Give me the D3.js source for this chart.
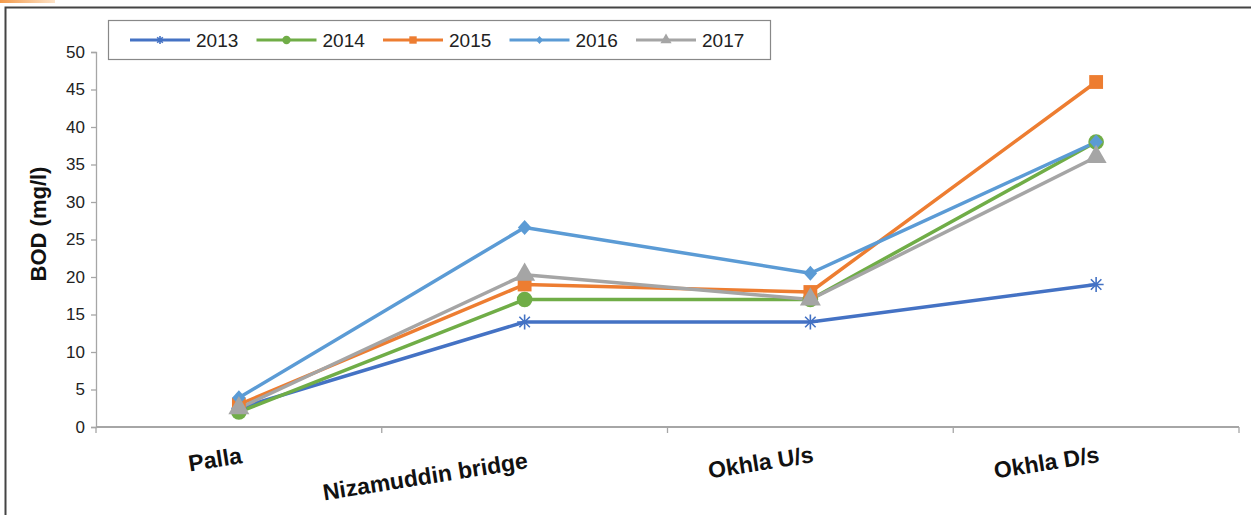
<!DOCTYPE html>
<html>
<head>
<meta charset="utf-8">
<script src="https://cdn.jsdelivr.net/npm/d3@7"></script>
<style>
  body { margin: 0; background: #fff; }
  svg { display: block; font-family: Arial, "Liberation Sans", sans-serif; }
</style>
</head>
<body>
<div id="chart"></div>
<script>
// BOD along the river, by station and year
const stations = ['Palla', 'Nizamuddin bridge', 'Okhla U/s', 'Okhla D/s'];
const years = ['2013', '2014', '2015', '2016', '2017'];
const bod2013 = [2.5, 14, 14, 19];
const bod2014 = [2, 17, 17, 38];
const bod2015 = [3, 19, 18, 46];
const bod2016 = [3.9, 26.6, 20.5, 38];
const bod2017 = [2.5, 20.3, 17, 36];
const yTicks = [0, 5, 10, 15, 20, 25, 30, 35, 40, 45, 50];

const colors = ['#4472c4', '#70ad47', '#ed7d31', '#5b9bd5', '#a5a5a5'];
const markers = ['asterisk', 'circle', 'square', 'diamond', 'triangle'];
const series = [bod2013, bod2014, bod2015, bod2016, bod2017];

const w = 1251, h = 515;
const plotL = 96, plotR = 1239, plotT = 52, plotB = 427;

const svg = d3.select('#chart').append('svg')
  .attr('width', w).attr('height', h);

// orange accent at top-left and the outer frame
const grad = svg.append('defs').append('linearGradient').attr('id', 'acc');
grad.append('stop').attr('offset', '0%').attr('stop-color', '#f39a4a');
grad.append('stop').attr('offset', '100%').attr('stop-color', '#fde3c8');
svg.append('rect').attr('x', 0).attr('y', 0).attr('width', 55).attr('height', 3).attr('fill', 'url(#acc)');
svg.append('path')
  .attr('d', 'M5.5,' + (h + 5) + 'V7.5H' + (w + 5))
  .attr('fill', 'none').attr('stroke', '#444').attr('stroke-width', 2);

const x = d3.scaleBand().domain(stations).range([plotL, plotR]);
const y = d3.scaleLinear().domain([0, 50]).range([plotB, plotT]);

// y axis
const yAxis = svg.append('g')
  .attr('transform', 'translate(' + plotL + ',0)')
  .call(d3.axisLeft(y).tickValues(yTicks).tickSize(5).tickPadding(6));
yAxis.selectAll('line, path').attr('stroke', '#a6a6a6').attr('stroke-width', 1.3);
yAxis.selectAll('text').attr('fill', '#222').style('font-size', '17px');

// x axis: ticks between categories
const xAxis = svg.append('g')
  .attr('transform', 'translate(0,' + plotB + ')');
xAxis.append('line').attr('x1', plotL).attr('x2', plotR)
  .attr('stroke', '#a6a6a6').attr('stroke-width', 2);
const bounds = stations.map(s => x(s)).concat([plotR]);
xAxis.selectAll('.tk').data(bounds).enter().append('line')
  .attr('x1', d => d).attr('x2', d => d).attr('y1', 0).attr('y2', 6)
  .attr('stroke', '#a6a6a6').attr('stroke-width', 1.3);

const labelDy = [36, 41, 35, 35];
xAxis.selectAll('.lbl').data(stations).enter().append('text')
  .attr('transform', (d, i) => 'translate(' + (x(d) + x.bandwidth() / 2 + 4) + ',' + labelDy[i] + ') rotate(-9)')
  .attr('text-anchor', 'end')
  .style('font-size', '23px').style('font-weight', 'bold')
  .attr('fill', '#111')
  .text(d => d);

// y title
svg.append('text')
  .attr('transform', 'translate(46,224) rotate(-90)')
  .attr('text-anchor', 'middle')
  .style('font-size', '22px').style('font-weight', 'bold')
  .attr('fill', '#111')
  .text('BOD (mg/l)');

function drawMarker(g, type, color, size) {
  const r = size;
  if (type === 'asterisk') {
    g.append('path')
      .attr('d', 'M' + -r + ',0H' + r + 'M' + (-r * 0.7) + ',' + (-r * 0.7) + 'L' + (r * 0.7) + ',' + (r * 0.7) +
        'M' + (-r * 0.7) + ',' + (r * 0.7) + 'L' + (r * 0.7) + ',' + (-r * 0.7) + 'M0,' + -r + 'V' + r)
      .attr('stroke', color).attr('stroke-width', 1.6).attr('fill', 'none');
  } else if (type === 'diamond') {
    g.append('path')
      .attr('d', 'M0,' + -r + 'L' + r * 0.9 + ',0L0,' + r + 'L' + -r * 0.9 + ',0Z')
      .attr('fill', color);
  } else {
    const sym = { circle: d3.symbolCircle, square: d3.symbolSquare, triangle: d3.symbolTriangle }[type];
    g.append('path').attr('d', d3.symbol(sym, r * r * 3.4)).attr('fill', color);
  }
}

const line = d3.line()
  .x((d, i) => x(stations[i]) + x.bandwidth() / 2)
  .y(d => y(d));

series.forEach((vals, s) => {
  svg.append('path').datum(vals)
    .attr('d', line)
    .attr('fill', 'none')
    .attr('stroke', colors[s])
    .attr('stroke-width', 3.5)
    .attr('stroke-linejoin', 'round');
});
series.forEach((vals, s) => {
  vals.forEach((v, i) => {
    const g = svg.append('g')
      .attr('transform', 'translate(' + (x(stations[i]) + x.bandwidth() / 2) + ',' + y(v) + ')');
    drawMarker(g, markers[s], colors[s], 7.5);
  });
});

// legend
const lg = svg.append('g');
lg.append('rect').attr('x', 108.5).attr('y', 20.5).attr('width', 662).attr('height', 39)
  .attr('fill', '#fff').attr('stroke', '#888').attr('stroke-width', 1.2);
const itemX = d3.scalePoint().domain(years).range([130, 636]);
years.forEach((yr, s) => {
  const xi = itemX(yr);
  const it = lg.append('g');
  it.append('line').attr('x1', xi).attr('x2', xi + 60).attr('y1', 40).attr('y2', 40)
    .attr('stroke', colors[s]).attr('stroke-width', 3);
  const m = it.append('g').attr('transform', 'translate(' + (xi + 30) + ',40)');
  drawMarker(m, markers[s], colors[s], 4);
  it.append('text').attr('x', xi + 66).attr('y', 47)
    .style('font-size', '19px').attr('fill', '#222').text(yr);
});
</script>
</body>
</html>
